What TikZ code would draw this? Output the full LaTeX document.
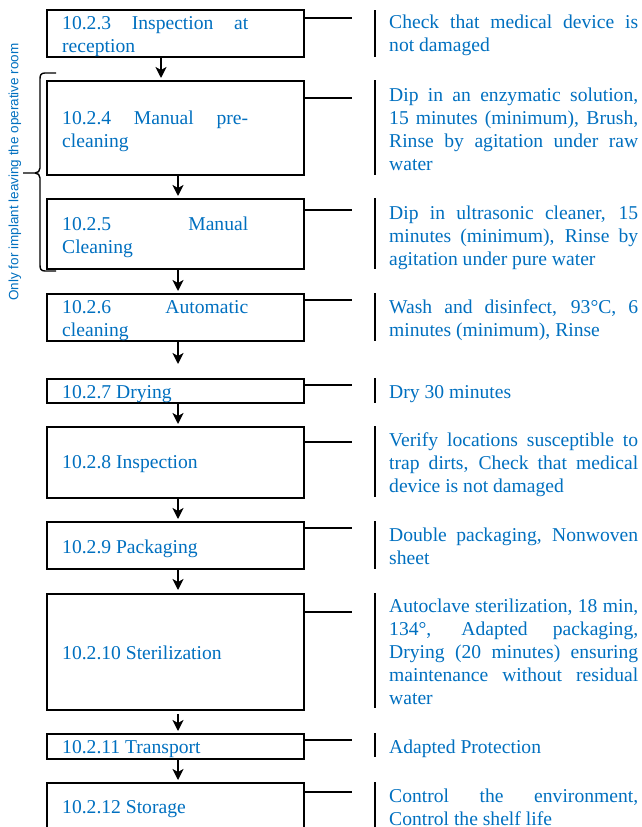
\documentclass[tikz,border=0pt]{standalone}
\usepackage{fontspec}
\setmainfont{Liberation Serif}
\newfontfamily\sidefont{Liberation Sans}
\usetikzlibrary{arrows.meta}
\definecolor{tblue}{RGB}{0,112,192}
\newcommand{\jline}[2]{\makebox[#1][s]{#2}}
\tikzset{
  box/.style={draw, line width=2pt, minimum width=257pt, inner sep=0pt},
  btext/.style={inner sep=0pt, anchor=base west, text=tblue, font=\fontsize{19.6pt}{23pt}\selectfont},
  rtext/.style={inner sep=0pt, anchor=base west, text=tblue, font=\fontsize{19.6pt}{23pt}\selectfont},
  conn/.style={line width=1.4pt},
  bar/.style={line width=1.8pt},
  arr/.style={line width=1.8pt, -{Stealth[length=11pt,width=11pt,inset=3pt]}},
}
\begin{document}
\begin{tikzpicture}[x=1pt,y=-1pt]
\clip (0,0) rectangle (641,827);
\fill[white] (0,0) rectangle (641,827);

% boxes (center y, height)
\node[box, minimum height=47pt] (b1) at (175.5,33.5) {};
\node[box, minimum height=94pt] (b2) at (175.5,128) {};
\node[box, minimum height=70pt] (b3) at (175.5,234) {};
\node[box, minimum height=47pt] (b4) at (175.5,317.5) {};
\node[box, minimum height=24pt] (b5) at (175.5,391) {};
\node[box, minimum height=71pt] (b6) at (175.5,462.5) {};
\node[box, minimum height=47pt] (b7) at (175.5,545.5) {};
\node[box, minimum height=116pt] (b8) at (175.5,652) {};
\node[box, minimum height=25pt] (b9) at (175.5,746.5) {};
\node[box, minimum height=57pt] (b10) at (175.5,811.5) {};

% box texts
\node[btext] (t1) at (62,29) {\parbox[t]{186pt}{\jline{186pt}{10.2.3 Inspection at}\\reception}};
\node[btext] (t2) at (62,124) {\parbox[t]{186pt}{\jline{186pt}{10.2.4 Manual pre-}\\cleaning}};
\node[btext] (t3) at (62,230) {\parbox[t]{186pt}{\jline{186pt}{10.2.5 Manual}\\Cleaning}};
\node[btext] (t4) at (62,313) {\parbox[t]{186pt}{\jline{186pt}{10.2.6 Automatic}\\cleaning}};
\node[btext] (t5) at (62,398) {10.2.7 Drying};
\node[btext] (t6) at (62,468) {10.2.8 Inspection};
\node[btext] (t7) at (62,553) {10.2.9 Packaging};
\node[btext] (t8) at (62,659) {10.2.10 Sterilization};
\node[btext] (t9) at (62,753) {10.2.11 Transport};
\node[btext] (t10) at (62,813) {10.2.12 Storage};

% connector free ends
\coordinate (c1) at (352,18);
\coordinate (c2) at (352,98);
\coordinate (c3) at (352,210);
\coordinate (c4) at (352,300);
\coordinate (c5) at (352,385);
\coordinate (c6) at (352,442);
\coordinate (c7) at (352,528);
\coordinate (c8) at (352,612);
\coordinate (c9) at (352,740);
\coordinate (c10) at (352,792);
\foreach \i in {1,...,10} {
  \draw[conn] (b\i.east |- c\i) -- (c\i);
}

% vertical bars
\draw[bar] (375,10) -- (375,57);
\draw[bar] (375,80) -- (375,175);
\draw[bar] (375,198) -- (375,269);
\draw[bar] (375,293) -- (375,341);
\draw[bar] (375,378) -- (375,403);
\draw[bar] (375,426) -- (375,497);
\draw[bar] (375,521) -- (375,569);
\draw[bar] (375,593) -- (375,708);
\draw[bar] (375,733) -- (375,757);
\draw[bar] (375,782) -- (375,840);

% right texts
\node[rtext] (r1) at (389,28) {\parbox[t]{249pt}{\jline{249pt}{Check that medical device is}\\not damaged}};
\node[rtext] (r2) at (389,101) {\parbox[t]{249pt}{\jline{249pt}{Dip in an enzymatic solution,}\\\jline{249pt}{15 minutes (minimum), Brush,}\\\jline{249pt}{Rinse by agitation under raw}\\water}};
\node[rtext] (r3) at (389,219) {\parbox[t]{249pt}{\jline{249pt}{Dip in ultrasonic cleaner, 15}\\\jline{249pt}{minutes (minimum), Rinse by}\\agitation under pure water}};
\node[rtext] (r4) at (389,313) {\parbox[t]{249pt}{\jline{249pt}{Wash and disinfect, 93°C, 6}\\minutes (minimum), Rinse}};
\node[rtext] (r5) at (389,398) {Dry 30 minutes};
\node[rtext] (r6) at (389,446) {\parbox[t]{249pt}{\jline{249pt}{Verify locations susceptible to}\\\jline{249pt}{trap dirts, Check that medical}\\device is not damaged}};
\node[rtext] (r7) at (389,541) {\parbox[t]{249pt}{\jline{249pt}{Double packaging, Nonwoven}\\sheet}};
\node[rtext] (r8) at (389,612) {\parbox[t]{249pt}{\jline{249pt}{Autoclave sterilization, 18 min,}\\\jline{249pt}{134°, Adapted packaging,}\\\jline{249pt}{Drying (20 minutes) ensuring}\\\jline{249pt}{maintenance without residual}\\water}};
\node[rtext] (r9) at (389,753) {Adapted Protection};
\node[rtext] (r10) at (389,802) {\parbox[t]{249pt}{\jline{249pt}{Control the environment,}\\Control the shelf life}};

% arrows
\coordinate (ax) at (178,0);
\coordinate (ax1) at (161,0);
\draw[arr] (b1.south -| ax1) -- ([yshift=2pt]b2.north -| ax1);
\draw[arr] (b2.south -| ax) -- ([yshift=2pt]b3.north -| ax);
\draw[arr] (b3.south -| ax) -- ([yshift=2pt]b4.north -| ax);
\draw[arr] (b4.south -| ax) -- ++(0,22);
\draw[arr] (b5.south -| ax) -- ([yshift=2pt]b6.north -| ax);
\draw[arr] (b6.south -| ax) -- ([yshift=2pt]b7.north -| ax);
\draw[arr] (b7.south -| ax) -- ([yshift=3pt]b8.north -| ax);
\draw[arr] ([yshift=-3pt]b8.south -| ax) -- ([yshift=2pt]b9.north -| ax);
\draw[arr] (b9.south -| ax) -- ([yshift=2pt]b10.north -| ax);

% brace
\draw[line width=1.4pt, line join=round]
  (56,73) -- (45,73) .. controls (41,73) and (40,75) .. (40,79) -- (40,168)
  .. controls (40,171) and (38,173) .. (35,173) -- (23,173);
\draw[line width=1.4pt, line join=round]
  (35,173) .. controls (38,173) and (40,175) .. (40,178) -- (40,265)
  .. controls (40,269) and (41,271) .. (45,271) -- (56,271);
\node[rotate=90, text=tblue, inner sep=0pt, font=\sidefont\fontsize{13.5pt}{16pt}\selectfont] (side) at (15,172) {Only for implant leaving the operative room};
\end{tikzpicture}
\end{document}
